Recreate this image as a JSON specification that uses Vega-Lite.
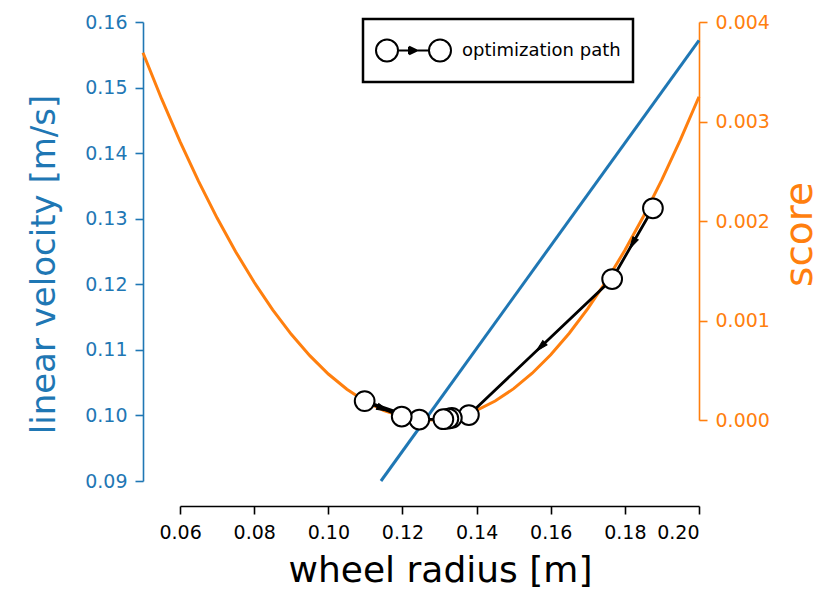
{
  "$schema": "https://vega.github.io/schema/vega-lite/v6.json",
  "width": 556,
  "height": 459,
  "autosize": "none",
  "padding": {"left": 143, "top": 22, "right": 121, "bottom": 109},
  "background": "white",
  "config": {
    "font": "DejaVu Sans",
    "view": {"stroke": null},
    "legend": {"strokeWidth": 2.5},
    "axis": {"grid": false, "labelFont": "DejaVu Sans", "titleFont": "DejaVu Sans", "titleFontWeight": "normal", "labelFontSize": 19, "titleFontSize": 36, "tickSize": 8, "tickWidth": 1.6, "domainWidth": 1.6, "labelPadding": 8}
  },
  "datasets": {
    "velocity": [
      {"r": 0.1142, "v": 0.09},
      {"r": 0.2, "v": 0.1572}
    ],
    "curve": [
      {"r": 0.05, "score": 0.0036906},
      {"r": 0.055, "score": 0.0032291},
      {"r": 0.06, "score": 0.0027984},
      {"r": 0.065, "score": 0.0023986},
      {"r": 0.07, "score": 0.0020295},
      {"r": 0.075, "score": 0.0016913},
      {"r": 0.08, "score": 0.0013838},
      {"r": 0.085, "score": 0.0011072},
      {"r": 0.09, "score": 0.00086142},
      {"r": 0.095, "score": 0.00064643},
      {"r": 0.1, "score": 0.00046225},
      {"r": 0.105, "score": 0.00030888},
      {"r": 0.11, "score": 0.00018632},
      {"r": 0.115, "score": 0.000094576},
      {"r": 0.12, "score": 0.00003364},
      {"r": 0.125, "score": 0.0000035156},
      {"r": 0.1274, "score": 0.0},
      {"r": 0.13, "score": 0.0000042025},
      {"r": 0.135, "score": 0.0000357},
      {"r": 0.14, "score": 0.00009801},
      {"r": 0.145, "score": 0.00019113},
      {"r": 0.15, "score": 0.00031506},
      {"r": 0.155, "score": 0.00046981},
      {"r": 0.16, "score": 0.00065536},
      {"r": 0.165, "score": 0.00087173},
      {"r": 0.17, "score": 0.0011189},
      {"r": 0.175, "score": 0.0013969},
      {"r": 0.18, "score": 0.0017057},
      {"r": 0.185, "score": 0.0020453},
      {"r": 0.19, "score": 0.0024157},
      {"r": 0.195, "score": 0.002817},
      {"r": 0.2, "score": 0.003249}
    ],
    "path": [
      {"step": 1, "r": 0.18757, "score": 0.002128, "series": "optimization path"},
      {"step": 2, "r": 0.17657, "score": 0.001417, "series": "optimization path"},
      {"step": 3, "r": 0.13792, "score": 0.00005, "series": "optimization path"},
      {"step": 4, "r": 0.13332, "score": 0.000022, "series": "optimization path"},
      {"step": 5, "r": 0.13238, "score": 0.000015, "series": "optimization path"},
      {"step": 6, "r": 0.13103, "score": 0.000008, "series": "optimization path"},
      {"step": 7, "r": 0.12454, "score": 0.000005, "series": "optimization path"},
      {"step": 8, "r": 0.1098, "score": 0.00019, "series": "optimization path"},
      {"step": 9, "r": 0.1198, "score": 0.000035, "series": "optimization path"}
    ],
    "arrows": [
      {"r": 0.18207, "score": 0.0017725, "heading": 210},
      {"r": 0.157245, "score": 0.0007335, "heading": 226},
      {"r": 0.1148, "score": 0.0001125, "heading": 113}
    ]
  },
  "encoding": {
    "x": {
      "field": "r", "type": "quantitative",
      "scale": {"domain": [0.05, 0.2], "nice": false, "zero": false},
      "axis": {
        "orient": "bottom", "offset": 25,
        "values": [0.06, 0.08, 0.1, 0.12, 0.14, 0.16, 0.18, 0.2],
        "format": ".2f",
        "domainDash": [0, 37, 520, 300],
        "domainColor": "black", "tickColor": "black", "labelColor": "black", "titleColor": "black",
        "labelPadding": 9,
        "title": "wheel radius [m]", "titleX": 297, "titlePadding": 11
      }
    }
  },
  "layer": [
    {
      "data": {"name": "velocity"},
      "mark": {"type": "line", "color": "#1f77b4", "strokeWidth": 3},
      "encoding": {
        "y": {
          "field": "v", "type": "quantitative",
          "scale": {"domain": [0.09, 0.16], "nice": false, "zero": false},
          "axis": {
            "orient": "left",
            "values": [0.09, 0.1, 0.11, 0.12, 0.13, 0.14, 0.15, 0.16],
            "format": ".2f",
            "domainColor": "#1f77b4", "tickColor": "#1f77b4", "labelColor": "#1f77b4", "titleColor": "#1f77b4",
            "title": "linear velocity [m/s]", "titleFontSize": 34, "titleAngle": -90, "titleX": -89, "titleY": 242, "titleBaseline": "alphabetic", "titleAlign": "center"
          }
        }
      }
    },
    {
      "encoding": {
        "y": {
          "field": "score", "type": "quantitative",
          "scale": {"domain": [-0.000613, 0.004], "nice": false, "zero": false},
          "axis": {
            "orient": "right",
            "values": [0, 0.001, 0.002, 0.003, 0.004],
            "format": ".3f",
            "domainDash": [0, 61, 398, 300],
            "domainColor": "#ff7f0e", "tickColor": "#ff7f0e", "labelColor": "#ff7f0e", "titleColor": "#ff7f0e",
            "title": "score", "titleFontSize": 39, "titleAngle": -90, "titleX": 120, "titleY": 212, "titleBaseline": "bottom", "titleAlign": "center"
          }
        }
      },
      "layer": [
        {
          "data": {"name": "curve"},
          "mark": {"type": "line", "color": "#ff7f0e", "strokeWidth": 3}
        },
        {
          "data": {"name": "path"},
          "mark": {"type": "line", "color": "black", "strokeWidth": 2.8},
          "encoding": {"order": {"field": "step", "type": "quantitative"}}
        },
        {
          "data": {"name": "arrows"},
          "mark": {"type": "point", "shape": "M0,-1L0.5,1L-0.5,1Z", "filled": true, "fill": "black", "stroke": "black", "strokeWidth": 1, "opacity": 1, "size": 150},
          "encoding": {"angle": {"field": "heading", "type": "quantitative", "scale": null}}
        },
        {
          "data": {"name": "path"},
          "mark": {"type": "point", "shape": "circle", "filled": true, "fill": "white", "strokeWidth": 2, "opacity": 1, "size": 390},
          "encoding": {
            "stroke": {
              "field": "series", "type": "nominal",
              "scale": {"range": ["black"]},
              "legend": {
                "title": null, "orient": "none", "legendX": 220, "legendY": -3,
                "symbolType": "M-0.413,0C-0.413,0.162,-0.545,0.293,-0.707,0.293C-0.869,0.293,-1,0.162,-1,0C-1,-0.162,-0.869,-0.293,-0.707,-0.293C-0.545,-0.293,-0.413,-0.162,-0.413,0ZM1,0C1,0.162,0.869,0.293,0.707,0.293C0.545,0.293,0.413,0.162,0.413,0C0.413,-0.162,0.545,-0.293,0.707,-0.293C0.869,-0.293,1,-0.162,1,0ZM-0.413,0L0.413,0M0.09,0L-0.12,-0.1M0.09,0L-0.12,0.1M0.09,0L-0.12,-0.05M0.09,0L-0.12,0.05M0.09,0L-0.12,-0.075M0.09,0L-0.12,0.075M-0.12,-0.1L-0.12,0.1",
                "symbolSize": 5625, "symbolStrokeWidth": 2, "symbolFillColor": "white", "symbolStrokeColor": "black", "symbolOpacity": 1,
                "labelFontSize": 18, "labelFont": "DejaVu Sans", "labelColor": "black", "labelOffset": 10, "labelLimit": 300,
                "padding": 12, "strokeColor": "black", "fillColor": "white", "cornerRadius": 0, "clipHeight": 39
              }
            }
          }
        }
      ]
    }
  ],
  "resolve": {"scale": {"y": "independent"}, "axis": {"y": "independent"}}
}
